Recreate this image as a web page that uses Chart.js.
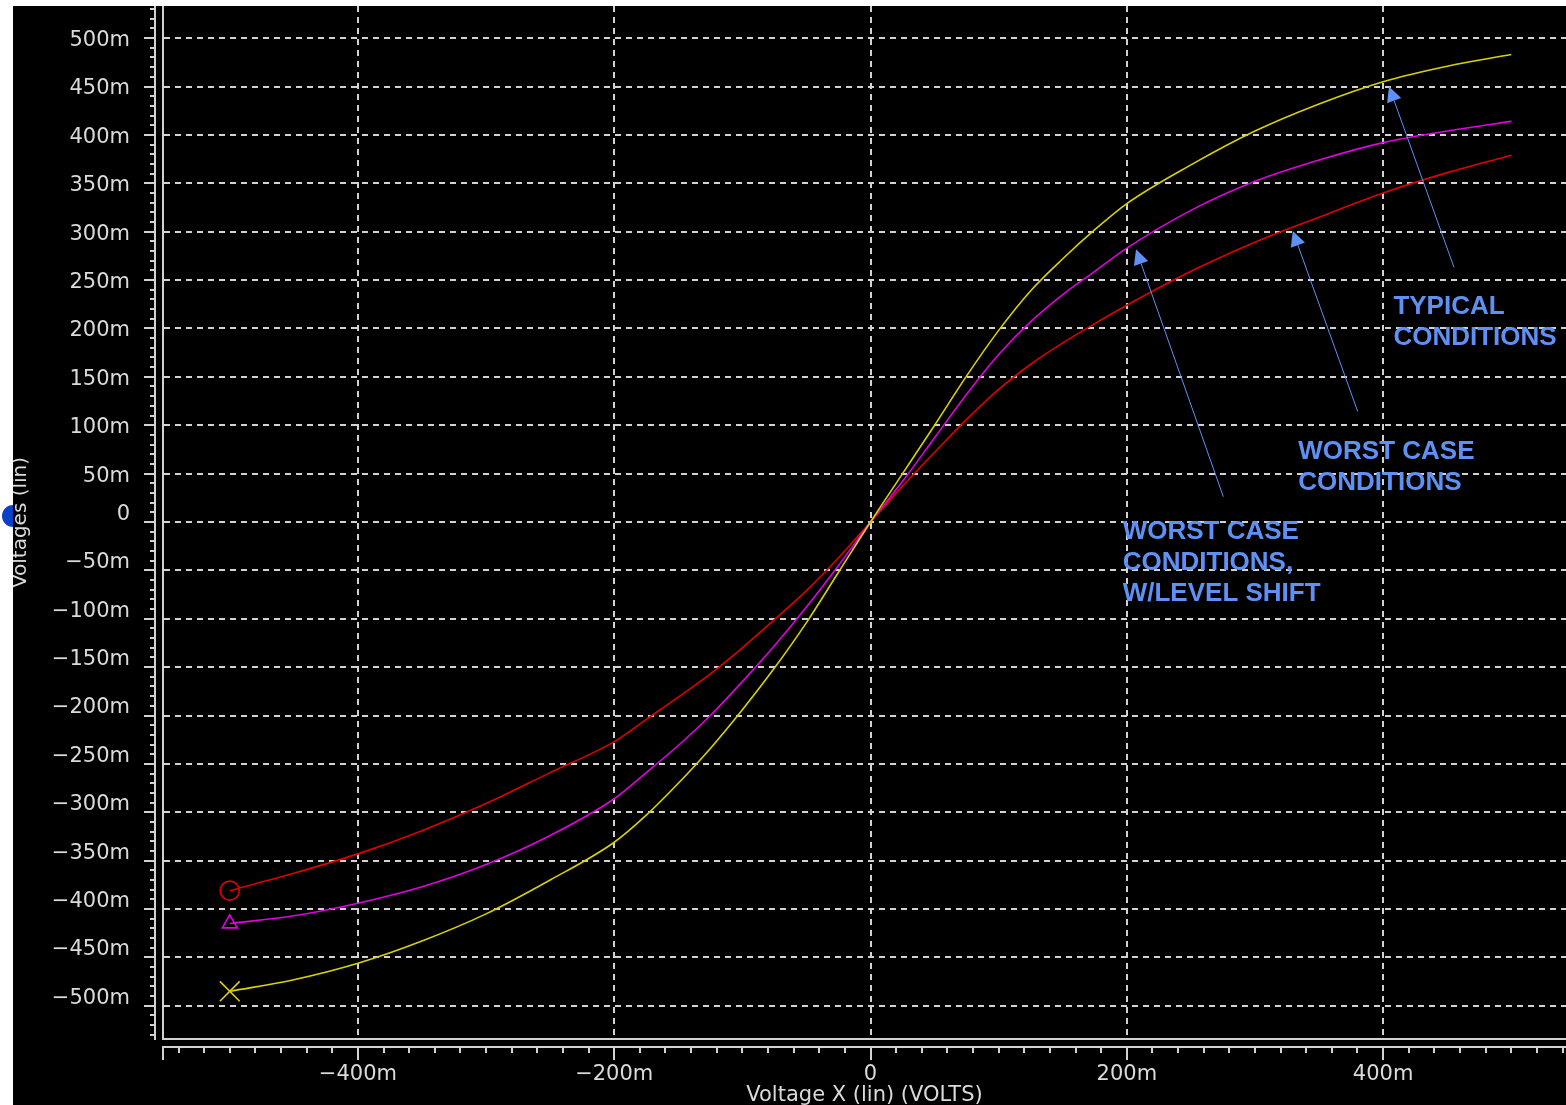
<!DOCTYPE html>
<html>
<head>
<meta charset="utf-8">
<title>Voltages (lin) vs Voltage X</title>
<style>
  html, body { margin: 0; padding: 0; background: #fff; width: 1566px; height: 1105px; overflow: hidden; }
  #dot { position: absolute; left: 2px; top: 505px; width: 22px; height: 22px; border-radius: 50%; background: #0a40c8; }
  #plot { position: absolute; left: 13px; top: 6px; background: #000; }
</style>
<script src="https://cdn.jsdelivr.net/npm/chart.js@4/dist/chart.umd.min.js"></script>
</head>
<body>
<div id="dot"></div>
<canvas id="plot" width="1553" height="1099"></canvas>
<script>
// Sweep of the input voltage (mV)
const xValues = [-500, -450, -400, -350, -300, -250, -200, -175, -150, -125, -100, -75, -50, -25, 0,
                 25, 50, 75, 100, 125, 150, 175, 200, 250, 300, 350, 400, 450, 500];

// Output voltage for each condition (mV)
const typicalValues    = [-485, -473, -456, -433, -405, -370, -331, -303, -270, -234, -194, -151, -104, -52, 0,
                          50, 100, 151, 198, 239, 272, 302, 329, 369, 404, 432, 455, 471, 483];
const worstValues      = [-381, -363, -343, -319, -291, -259, -227, -204, -181, -157, -130, -101, -71, -37, 0,
                          37, 72, 106, 137, 163, 185, 205, 224, 259, 289, 315, 340, 361, 379];
const levelShiftValues = [-415, -407, -394, -377, -354, -324, -286, -259, -231, -200, -165, -128, -88, -45, 0,
                          42, 87, 132, 173, 207, 235, 259, 283, 322, 352, 374, 392, 404, 414];

// Axis ranges and tick labels
const xRange = [-552.1, 542.7];
const yRange = [-534.3, 533.2];
const xTickValues = [-400, -200, 0, 200, 400];
const xTickLabels = ['\u2212400m', '\u2212200m', '0', '200m', '400m'];
const yTickValues = [500, 450, 400, 350, 300, 250, 200, 150, 100, 50, 0,
                     -50, -100, -150, -200, -250, -300, -350, -400, -450, -500];
const yTickLabels = ['500m', '450m', '400m', '350m', '300m', '250m', '200m', '150m', '100m', '50m', '0',
                     '\u221250m', '\u2212100m', '\u2212150m', '\u2212200m', '\u2212250m', '\u2212300m',
                     '\u2212350m', '\u2212400m', '\u2212450m', '\u2212500m'];

// Callout texts and arrows (data units)
const noteLines = [['TYPICAL', 'CONDITIONS'], ['WORST CASE', 'CONDITIONS'], ['WORST CASE', 'CONDITIONS,', 'W/LEVEL SHIFT']];
const noteX = [408.0, 333.8, 196.8];
const noteY = [214.4, 65.3, -17.4];
const arrowTipX = [404.6, 329.5, 207.2];
const arrowTipY = [450.0, 300.7, 281.8];
const arrowTailX = [455.3, 380.2, 275.3];
const arrowTailY = [263.2, 114.0, 26.1];

const AXIS_COLOR = '#d2d2d2';
const TEXT_COLOR = '#dadada';
const NOTE_COLOR = '#5f91f5';
const TICK_FONT = 'DejaVu Sans';

const toPoints = vals => vals.map((v, i) => ({ x: xValues[i], y: v }));

// Ruler with major and minor ticks, offset from the plot frame
const rulerPlugin = {
  id: 'ruler',
  afterDraw(chart) {
    const { ctx, chartArea: a, scales: { x, y } } = chart;
    ctx.save();
    ctx.strokeStyle = AXIS_COLOR;
    ctx.lineWidth = 2;
    ctx.beginPath();
    const rx = a.left - 8;
    ctx.moveTo(rx, 0);
    ctx.lineTo(rx, a.bottom + 1);
    for (let v = -530; v <= 530; v += 10) {
      const py = Math.round(y.getPixelForValue(v));
      const len = v % 50 === 0 ? 11 : 5;
      ctx.moveTo(rx - len, py);
      ctx.lineTo(rx, py);
    }
    const ry = a.bottom + 8;
    ctx.moveTo(a.left - 1, ry);
    ctx.lineTo(a.right, ry);
    ctx.moveTo(a.left, ry);
    ctx.lineTo(a.left, ry + 13);
    for (let v = -540; v <= 540; v += 20) {
      const px = Math.round(x.getPixelForValue(v));
      const len = v % 200 === 0 ? 13 : 6;
      ctx.moveTo(px, ry);
      ctx.lineTo(px, ry + len);
    }
    ctx.stroke();
    ctx.restore();
  }
};

// Callout arrows and their captions
const notePlugin = {
  id: 'notes',
  afterDatasetsDraw(chart) {
    const { ctx, scales: { x, y } } = chart;
    ctx.save();
    ctx.strokeStyle = NOTE_COLOR;
    ctx.fillStyle = NOTE_COLOR;
    ctx.lineWidth = 1;
    arrowTipX.forEach((tx, i) => {
      const x1 = x.getPixelForValue(arrowTailX[i]), y1 = y.getPixelForValue(arrowTailY[i]);
      const x2 = x.getPixelForValue(tx), y2 = y.getPixelForValue(arrowTipY[i]);
      const ang = Math.atan2(y2 - y1, x2 - x1);
      const hl = 15, hw = 7.5;
      const bx = x2 - hl * Math.cos(ang), by = y2 - hl * Math.sin(ang);
      ctx.beginPath();
      ctx.moveTo(x1, y1);
      ctx.lineTo(bx, by);
      ctx.stroke();
      ctx.beginPath();
      ctx.moveTo(x2, y2);
      ctx.lineTo(bx - hw * Math.sin(ang), by + hw * Math.cos(ang));
      ctx.lineTo(bx + hw * Math.sin(ang), by - hw * Math.cos(ang));
      ctx.closePath();
      ctx.fill();
    });
    ctx.font = 'bold 26px "Liberation Sans", Arial, sans-serif';
    ctx.textAlign = 'left';
    ctx.textBaseline = 'alphabetic';
    noteLines.forEach((lines, i) => {
      const px = x.getPixelForValue(noteX[i]);
      const py = y.getPixelForValue(noteY[i]);
      lines.forEach((t, j) => ctx.fillText(t, px, py + j * 31));
    });
    ctx.restore();
  }
};

const firstOnly = r => c => (c.dataIndex === 0 ? r : 0);

new Chart(document.getElementById('plot'), {
  type: 'line',
  data: {
    datasets: [
      {
        label: 'Typical conditions',
        data: toPoints(typicalValues),
        borderColor: '#d8d200',
        pointBorderColor: '#d8d200',
        pointStyle: 'crossRot',
        pointRadius: firstOnly(14)
      },
      {
        label: 'Worst case conditions, w/level shift',
        data: toPoints(levelShiftValues),
        borderColor: '#e000e0',
        pointBorderColor: '#e000e0',
        pointStyle: 'triangle',
        pointRadius: firstOnly(8.7)
      },
      {
        label: 'Worst case conditions',
        data: toPoints(worstValues),
        borderColor: '#e00000',
        pointBorderColor: '#e00000',
        pointStyle: 'circle',
        pointRadius: firstOnly(9.5)
      }
    ]
  },
  options: {
    responsive: false,
    animation: false,
    events: [],
    layout: { padding: 0, autoPadding: false },
    datasets: {
      line: {
        borderWidth: 1.6,
        pointBorderWidth: 1.6,
        pointBackgroundColor: 'rgba(0,0,0,0)',
        cubicInterpolationMode: 'monotone',
        fill: false
      }
    },
    plugins: {
      legend: { display: false },
      tooltip: { enabled: false }
    },
    scales: {
      x: {
        type: 'linear',
        position: 'bottom',
        min: xRange[0],
        max: xRange[1],
        afterBuildTicks: s => { s.ticks = xTickValues.map(value => ({ value })); },
        afterFit: s => { s.height = 66; s.paddingLeft = 0; s.paddingRight = 0; },
        ticks: {
          callback: (v, i) => xTickLabels[i],
          color: TEXT_COLOR,
          font: { family: TICK_FONT, size: 21 },
          padding: 23,
          maxRotation: 0,
          autoSkip: false
        },
        grid: { color: AXIS_COLOR, lineWidth: 2, drawTicks: false },
        border: { display: true, color: AXIS_COLOR, width: 2, dash: [6, 5] },
        title: {
          display: true,
          text: 'Voltage X (lin) (VOLTS)',
          color: TEXT_COLOR,
          font: { family: TICK_FONT, size: 21, lineHeight: 1 },
          padding: { top: 0, bottom: -1.5 }
        }
      },
      y: {
        type: 'linear',
        position: 'left',
        min: yRange[0],
        max: yRange[1],
        afterBuildTicks: s => { s.ticks = yTickValues.map(value => ({ value })); },
        afterFit: s => { s.width = 150; s.paddingTop = 0; s.paddingBottom = 0; },
        ticks: {
          callback: (v, i) => (v <= 0 ? [yTickLabels[i], ''] : yTickLabels[i]),
          color: TEXT_COLOR,
          font: { family: TICK_FONT, size: 21, lineHeight: 0.95 },
          padding: 33,
          labelOffset: 2.5,
          autoSkip: false
        },
        grid: { color: AXIS_COLOR, lineWidth: 2, drawTicks: false },
        border: { display: true, color: AXIS_COLOR, width: 2, dash: [6, 5] },
        title: {
          display: true,
          text: 'Voltages (lin)',
          color: TEXT_COLOR,
          font: { family: TICK_FONT, size: 20, lineHeight: 1 },
          padding: { top: -2, bottom: 0 }
        }
      }
    }
  },
  plugins: [rulerPlugin, notePlugin]
});
</script>
</body>
</html>
